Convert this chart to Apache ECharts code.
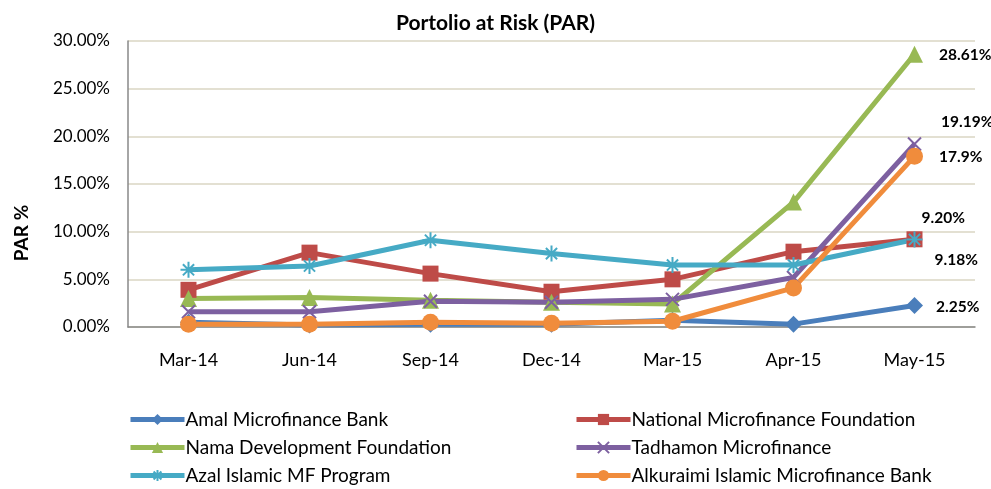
<!DOCTYPE html>
<html>
<head>
<meta charset="utf-8">
<script src="https://cdn.jsdelivr.net/npm/echarts@6/dist/echarts.min.js"></script>
<style>
  html, body { margin: 0; padding: 0; background: #fff; }
  #main { width: 991px; height: 489px; }
</style>
</head>
<body>
<div id="main"></div>
<script>
// chart data (PAR in percent)
const months = ['Mar-14', 'Jun-14', 'Sep-14', 'Dec-14', 'Mar-15', 'Apr-15', 'May-15']
const amal = [0.5, 0.2, 0.3, 0.3, 0.7, 0.3, 2.25]
const national = [3.9, 7.8, 5.6, 3.7, 5.0, 7.9, 9.20]
const nama = [3.0, 3.1, 2.8, 2.6, 2.4, 13.1, 28.61]
const tadhamon = [1.6, 1.6, 2.7, 2.6, 2.9, 5.2, 19.19]
const azal = [6.0, 6.4, 9.1, 7.7, 6.5, 6.5, 9.18]
const alkuraimi = [0.3, 0.3, 0.5, 0.4, 0.6, 4.1, 17.9]
const endLabels = ['2.25%', '9.20%', '28.61%', '19.19%', '9.18%', '17.9%']
const yTicks = [0, 5, 10, 15, 20, 25, 30]

const FONT = 'Lato'
const xPath = 'path://M0,0 L10,10 M10,0 L0,10'
const starPath = 'path://M5,0 L5,10 M0,5 L10,5 M1.5,1.5 L8.5,8.5 M8.5,1.5 L1.5,8.5'

function makeSeries (name, values, color, symbol, size, labelText, offset, stroked) {
  const data = values.map((v, i) => {
    if (i !== values.length - 1) return v
    return {
      value: v,
      label: {
        show: true,
        position: 'right',
        distance: 5,
        offset: offset,
        formatter: labelText,
        color: '#000',
        fontFamily: FONT,
        fontWeight: 'bold',
        fontSize: 15.5
      }
    }
  })
  return {
    name: name,
    type: 'line',
    data: data,
    symbol: symbol,
    symbolSize: size,
    showSymbol: true,
    lineStyle: { width: 5, color: color },
    itemStyle: stroked
      ? { color: color, borderColor: color, borderWidth: 2 }
      : { color: color },
    emphasis: { disabled: true },
    z: 2
  }
}

const legendText = { fontFamily: FONT, fontSize: 19, lineHeight: 19, color: '#000', padding: [0, 0, 0, -4] }

const chart = echarts.init(document.getElementById('main'))
chart.setOption({
  animation: false,
  textStyle: { fontFamily: FONT },
  title: {
    text: 'Portolio at Risk (PAR)',
    left: 'center',
    top: 8,
    textStyle: { fontFamily: FONT, fontWeight: 'bold', fontSize: 21, color: '#000' }
  },
  graphic: [{
    type: 'text',
    x: 22,
    y: 233,
    rotation: Math.PI / 2,
    style: {
      text: 'PAR %',
      fontFamily: FONT,
      fontWeight: 'bold',
      fontSize: 19,
      fill: '#000',
      align: 'center',
      verticalAlign: 'middle'
    }
  }],
  grid: { left: 128, right: 16, top: 41, bottom: 162 },
  xAxis: {
    type: 'category',
    data: months,
    boundaryGap: true,
    axisLine: { lineStyle: { color: '#888', width: 1.5 } },
    axisTick: { show: false },
    axisLabel: { margin: 24, color: '#000', fontFamily: FONT, fontSize: 18 }
  },
  yAxis: {
    type: 'value',
    min: 0,
    max: 30,
    interval: 5,
    axisLine: { show: true, lineStyle: { color: '#888', width: 1.5 } },
    axisTick: { show: false },
    axisLabel: {
      margin: 18,
      color: '#000',
      fontFamily: FONT,
      fontSize: 17,
      formatter: v => yTicks.includes(v) ? v.toFixed(2) + '%' : ''
    },
    splitLine: { lineStyle: { color: '#e3e0d2', width: 2 } }
  },
  legend: [
    {
      orient: 'vertical',
      left: 128,
      top: 410,
      padding: 0,
      itemWidth: 54,
      itemHeight: 14,
      itemGap: 9,
      lineStyle: { width: 5 },
      textStyle: legendText,
      data: ['Amal Microfinance Bank', 'Nama Development Foundation', 'Azal Islamic MF Program']
    },
    {
      orient: 'vertical',
      left: 574,
      top: 410,
      padding: 0,
      itemWidth: 54,
      itemHeight: 14,
      itemGap: 9,
      lineStyle: { width: 5 },
      textStyle: legendText,
      data: ['National Microfinance Foundation', 'Tadhamon Microfinance', 'Alkuraimi Islamic Microfinance Bank']
    }
  ],
  series: [
    makeSeries('Amal Microfinance Bank', amal, '#4a7ebb', 'diamond', 17, endLabels[0], [8, 1]),
    makeSeries('National Microfinance Foundation', national, '#be4b48', 'rect', 16, endLabels[1], [-6, -21]),
    makeSeries('Nama Development Foundation', nama, '#98b954', 'triangle', 17, endLabels[2], [11, 1]),
    makeSeries('Tadhamon Microfinance', tadhamon, '#7d60a0', xPath, 13, endLabels[3], [14, -22], true),
    makeSeries('Azal Islamic MF Program', azal, '#46aac5', starPath, 16, endLabels[4], [6, 21], true),
    makeSeries('Alkuraimi Islamic Microfinance Bank', alkuraimi, '#f08c3c', 'circle', 17, endLabels[5], [11, 1])
  ]
})
</script>
</body>
</html>
